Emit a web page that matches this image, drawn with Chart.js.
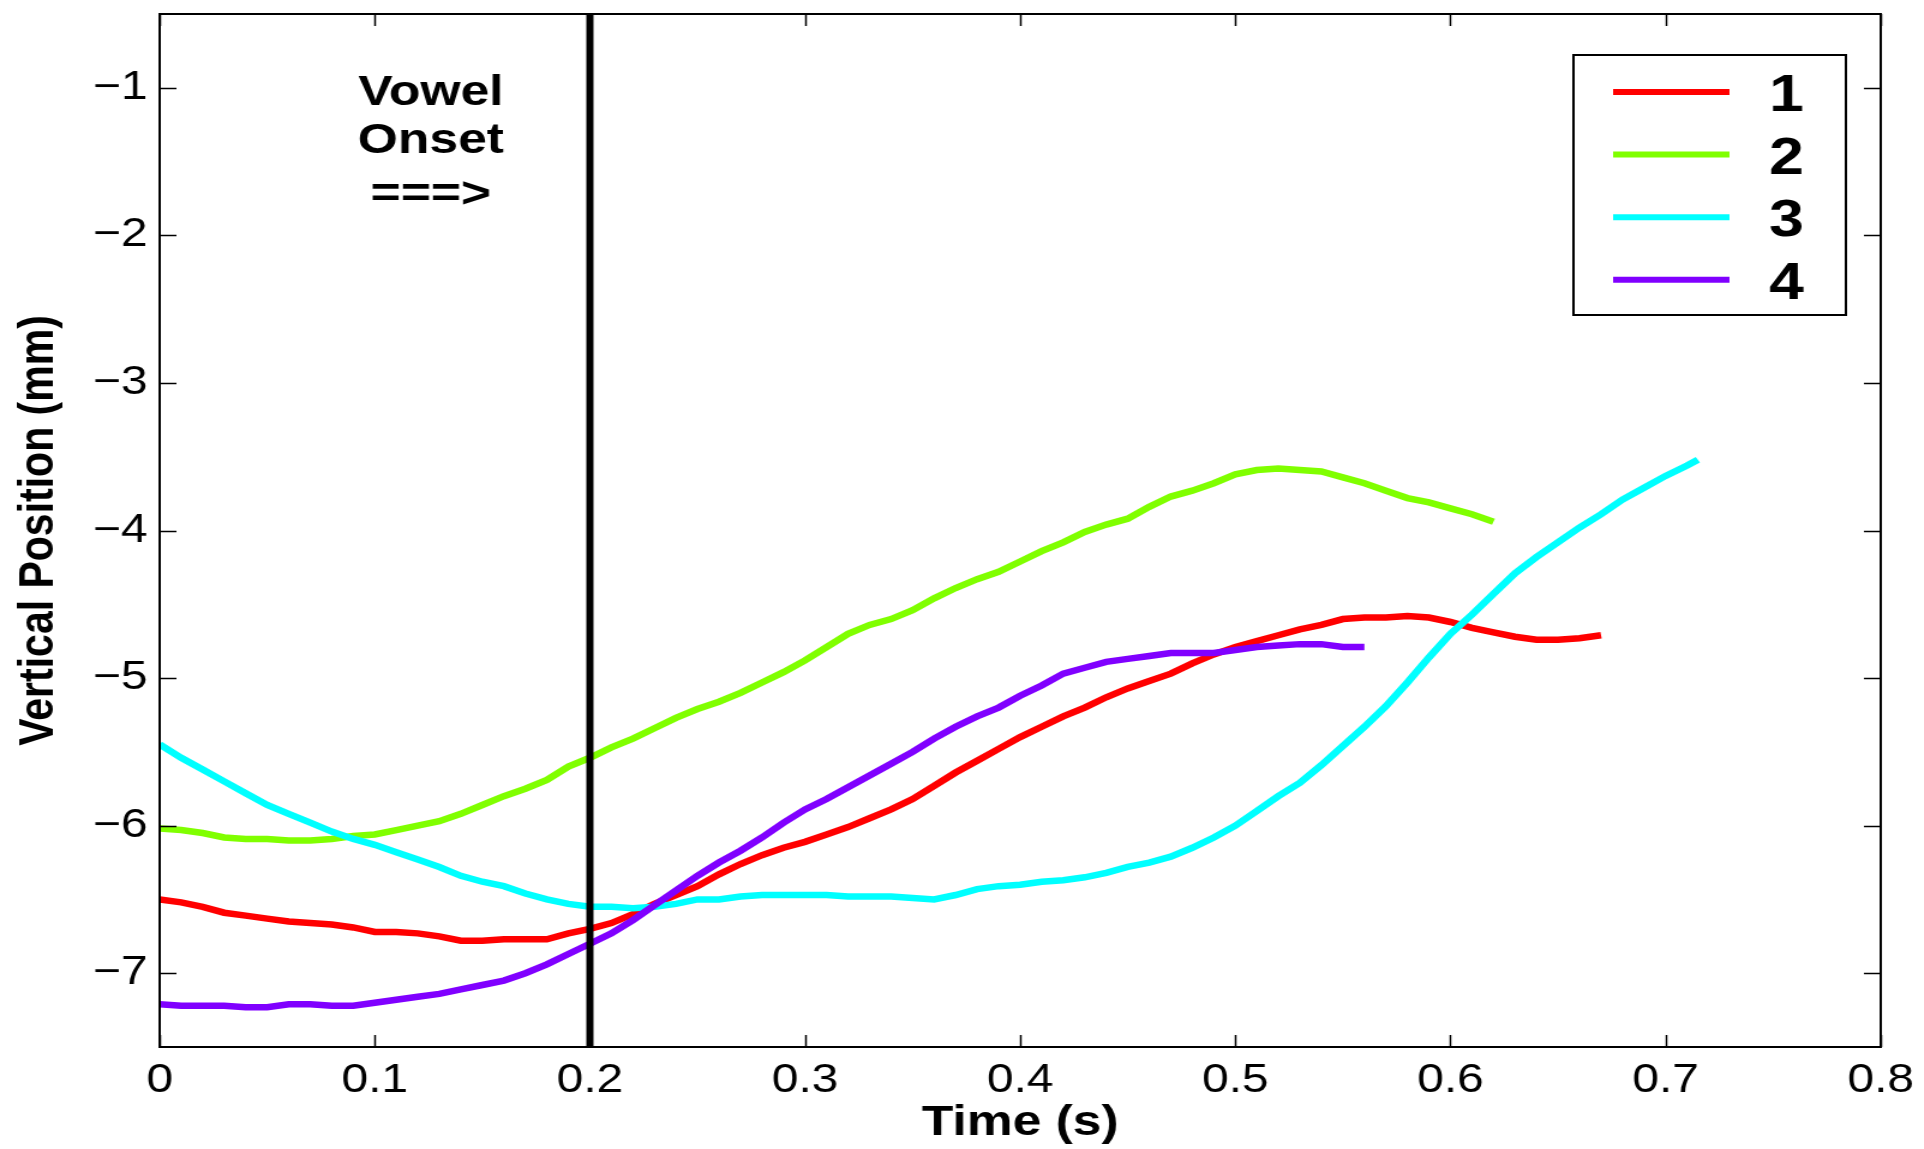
<!DOCTYPE html>
<html>
<head>
<meta charset="utf-8">
<script src="https://cdn.jsdelivr.net/npm/chart.js@4/dist/chart.umd.min.js"></script>
<style>
    html, body { margin: 0; padding: 0; background: #fff; overflow: hidden; }
    /* the original figure is stretched sideways, so draw narrow and widen */
    #chart { display: block; width: 1603px; height: 1149px; transform: scaleX(1.2002); transform-origin: 0 0; }
</style>
</head>
<body>
<canvas id="chart" width="1603" height="1149"></canvas>
<script>
// time (s), shared by all four traces
var time = [0.00, 0.01, 0.02, 0.03, 0.04, 0.05, 0.06, 0.07, 0.08, 0.09,
    0.10, 0.11, 0.12, 0.13, 0.14, 0.15, 0.16, 0.17, 0.18, 0.19,
    0.20, 0.21, 0.22, 0.23, 0.24, 0.25, 0.26, 0.27, 0.28, 0.29,
    0.30, 0.31, 0.32, 0.33, 0.34, 0.35, 0.36, 0.37, 0.38, 0.39,
    0.40, 0.41, 0.42, 0.43, 0.44, 0.45, 0.46, 0.47, 0.48, 0.49,
    0.50, 0.51, 0.52, 0.53, 0.54, 0.55, 0.56, 0.57, 0.58, 0.59,
    0.60, 0.61, 0.62, 0.63, 0.64, 0.65, 0.66, 0.67, 0.68, 0.69,
    0.70, 0.71, 0.715];

// vertical position (mm)
var trace1 = [-6.50, -6.52, -6.55, -6.59, -6.61, -6.63, -6.65, -6.66, -6.67, -6.69,
    -6.72, -6.72, -6.73, -6.75, -6.78, -6.78, -6.77, -6.77, -6.77, -6.73,
    -6.70, -6.66, -6.60, -6.53, -6.47, -6.41, -6.33, -6.26, -6.20, -6.15,
    -6.11, -6.06, -6.01, -5.95, -5.89, -5.82, -5.73, -5.64, -5.56, -5.48,
    -5.40, -5.33, -5.26, -5.20, -5.13, -5.07, -5.02, -4.97, -4.90, -4.84,
    -4.79, -4.75, -4.71, -4.67, -4.64, -4.60, -4.59, -4.59, -4.58, -4.59,
    -4.62, -4.66, -4.69, -4.72, -4.74, -4.74, -4.73, -4.71];

var trace2 = [-6.02, -6.03, -6.05, -6.08, -6.09, -6.09, -6.10, -6.10, -6.09, -6.07,
    -6.06, -6.03, -6.00, -5.97, -5.92, -5.86, -5.80, -5.75, -5.69, -5.60,
    -5.54, -5.47, -5.41, -5.34, -5.27, -5.21, -5.16, -5.10, -5.03, -4.96,
    -4.88, -4.79, -4.70, -4.64, -4.60, -4.54, -4.46, -4.39, -4.33, -4.28,
    -4.21, -4.14, -4.08, -4.01, -3.96, -3.92, -3.84, -3.77, -3.73, -3.68,
    -3.62, -3.59, -3.58, -3.59, -3.60, -3.64, -3.68, -3.73, -3.78, -3.81,
    -3.85, -3.89, -3.94];

var trace3 = [-5.45, -5.54, -5.62, -5.70, -5.78, -5.86, -5.92, -5.98, -6.04, -6.09,
    -6.13, -6.18, -6.23, -6.28, -6.34, -6.38, -6.41, -6.46, -6.50, -6.53,
    -6.55, -6.55, -6.56, -6.55, -6.53, -6.50, -6.50, -6.48, -6.47, -6.47,
    -6.47, -6.47, -6.48, -6.48, -6.48, -6.49, -6.50, -6.47, -6.43, -6.41,
    -6.40, -6.38, -6.37, -6.35, -6.32, -6.28, -6.25, -6.21, -6.15, -6.08,
    -6.00, -5.90, -5.80, -5.71, -5.59, -5.46, -5.33, -5.19, -5.03, -4.86,
    -4.70, -4.57, -4.43, -4.29, -4.18, -4.08, -3.98, -3.89, -3.79, -3.71,
    -3.63, -3.56, -3.52];

var trace4 = [-7.21, -7.22, -7.22, -7.22, -7.23, -7.23, -7.21, -7.21, -7.22, -7.22,
    -7.20, -7.18, -7.16, -7.14, -7.11, -7.08, -7.05, -7.00, -6.94, -6.87,
    -6.80, -6.73, -6.64, -6.54, -6.44, -6.34, -6.25, -6.17, -6.08, -5.98,
    -5.89, -5.82, -5.74, -5.66, -5.58, -5.50, -5.41, -5.33, -5.26, -5.20,
    -5.12, -5.05, -4.97, -4.93, -4.89, -4.87, -4.85, -4.83, -4.83, -4.83,
    -4.81, -4.79, -4.78, -4.77, -4.77, -4.79, -4.79];

var traceLabels = ['1', '2', '3', '4'];
var traceColors = ['#ff0000', '#80ff00', '#00ffff', '#8000ff'];

var xTicks = [0, 0.1, 0.2, 0.3, 0.4, 0.5, 0.6, 0.7, 0.8];
var yTicks = [-7, -6, -5, -4, -3, -2, -1];

var onsetTime = 0.2;
var yRange = [-7.5, -0.5];
var xRange = [0, 0.8];

var FONT = "'Liberation Sans', Arial, Helvetica, sans-serif";

function toPoints(values) {
    return values.map(function (v, i) {
        return { x: time[i], y: v };
    });
}

var traces = [trace1, trace2, trace3, trace4];
var datasets = traces.map(function (values, i) {
    return {
        label: traceLabels[i],
        data: toPoints(values),
        borderColor: traceColors[i],
        backgroundColor: traceColors[i],
        borderWidth: 6.5,
        pointRadius: 0,
        tension: 0,
        fill: false,
        order: 4 - i
    };
});

// vowel onset marker
datasets.push({
    label: '',
    data: [{ x: onsetTime, y: yRange[0] }, { x: onsetTime, y: yRange[1] }],
    borderColor: '#000000',
    borderWidth: 6,
    pointRadius: 0,
    order: -1
});

// box, inward ticks, legend and the annotation
var matlabFrame = {
    id: 'matlabFrame',
    afterDraw: function (chart) {
        var ctx = chart.ctx;
        var a = chart.chartArea;
        var xs = chart.scales.x, ys = chart.scales.y;

        ctx.save();
        ctx.strokeStyle = '#000';
        ctx.lineWidth = 1.5;
        ctx.beginPath();
        xs.ticks.forEach(function (t) {
            var px = Math.round(xs.getPixelForValue(t.value)) + 0.5;
            ctx.moveTo(px, a.bottom); ctx.lineTo(px, a.bottom - 12);
            ctx.moveTo(px, a.top); ctx.lineTo(px, a.top + 12);
        });
        ys.ticks.forEach(function (t) {
            var py = Math.round(ys.getPixelForValue(t.value)) + 0.5;
            ctx.moveTo(a.left, py); ctx.lineTo(a.left + 14, py);
            ctx.moveTo(a.right, py); ctx.lineTo(a.right - 14, py);
        });
        ctx.stroke();

        ctx.lineWidth = 2;
        ctx.strokeRect(a.left, a.top, a.right - a.left, a.bottom - a.top);

        // annotation text
        ctx.fillStyle = '#000';
        ctx.textAlign = 'center';
        ctx.textBaseline = 'alphabetic';
        ctx.font = 'bold 43px ' + FONT;
        ctx.fillText('Vowel', 359, 105);
        ctx.fillText('Onset', 359, 153);
        ctx.fillText('===>', 359, 207);

        // legend
        var lx = 1311, ly = 55, lw = 227, lh = 260;
        ctx.fillStyle = '#fff';
        ctx.fillRect(lx, ly, lw, lh);
        ctx.lineWidth = 2;
        ctx.strokeRect(lx, ly, lw, lh);
        ctx.font = 'bold 52px ' + FONT;
        ctx.textAlign = 'left';
        for (var i = 0; i < traceLabels.length; i++) {
            var ry = 92 + i * 62.6;
            ctx.strokeStyle = traceColors[i];
            ctx.lineWidth = 6;
            ctx.beginPath();
            ctx.moveTo(1344, ry);
            ctx.lineTo(1441, ry);
            ctx.stroke();
            ctx.fillStyle = '#000';
            ctx.fillText(traceLabels[i], 1474, ry + 19);
        }
        ctx.restore();
    }
};

var ctx = document.getElementById('chart').getContext('2d');
var chart = new Chart(ctx, {
    type: 'line',
    data: { datasets: datasets },
    options: {
        responsive: false,
        animation: false,
        devicePixelRatio: 1,
        layout: { padding: { top: 14, right: 36, left: 0, bottom: 0 } },
        plugins: {
            legend: { display: false },
            tooltip: { enabled: false }
        },
        scales: {
            x: {
                type: 'linear',
                min: xRange[0],
                max: xRange[1],
                bounds: 'data',
                afterBuildTicks: function (scale) {
                    scale.ticks = xTicks.map(function (v) { return { value: v }; });
                },
                grid: { display: false, drawTicks: false },
                border: { display: false },
                ticks: {
                    autoSkip: false,
                    maxRotation: 0,
                    padding: 10,
                    color: '#000',
                    font: { family: FONT, size: 40 },
                    callback: function (v) { return String(Number(v.toFixed(1))); }
                },
                title: {
                    display: true,
                    text: 'Time (s)',
                    color: '#000',
                    font: { family: FONT, size: 43, weight: 'bold' },
                    padding: { top: 0, bottom: 0 }
                },
                afterFit: function (scale) {
                    scale.height = 102;
                    scale.paddingLeft = 0;
                    scale.paddingRight = 0;
                }
            },
            y: {
                min: yRange[0],
                max: yRange[1],
                bounds: 'data',
                afterBuildTicks: function (scale) {
                    scale.ticks = yTicks.map(function (v) { return { value: v }; });
                },
                grid: { display: false, drawTicks: false },
                border: { display: false },
                ticks: {
                    autoSkip: false,
                    padding: 10,
                    color: '#000',
                    font: { family: FONT, size: 40 },
                    callback: function (v) { return String(v).replace('-', '\u2212'); }
                },
                title: {
                    display: true,
                    text: 'Vertical Position (mm)',
                    color: '#000',
                    font: { family: FONT, size: 41, weight: 'bold' },
                    padding: { top: 8, bottom: 0 }
                },
                afterFit: function (scale) {
                    scale.width = 133;
                    scale.paddingTop = 0;
                    scale.paddingBottom = 0;
                }
            }
        }
    },
    plugins: [matlabFrame]
});
</script>
</body>
</html>
